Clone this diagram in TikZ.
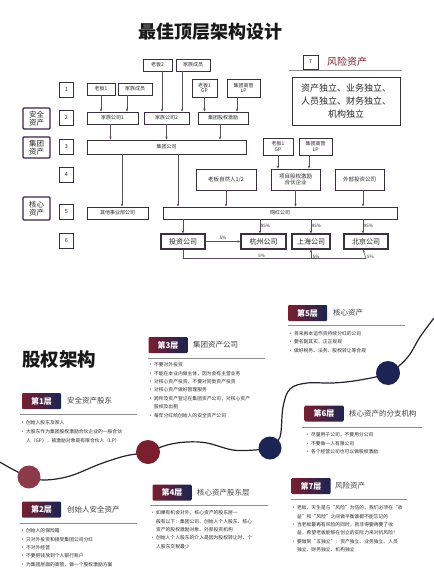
\documentclass[tikz,border=0pt]{standalone}
\usepackage{fontspec}
\setmainfont{Noto Sans CJK SC}
\usetikzlibrary{arrows.meta,calc}
\definecolor{maroon}{HTML}{7A1F2E}
\definecolor{lmaroon}{HTML}{8C3A4A}
\definecolor{navy}{HTML}{1B2452}
\definecolor{boxc}{HTML}{3A3040}
\definecolor{txt}{HTML}{2A2A2A}
\definecolor{linec}{HTML}{26202C}
\newcommand\mybox[7][]{\node[box,#1,minimum width={(#5-#3)*1pt},minimum height={(#6-#4)*1pt}] (#2) at ({(#3+#5)/2},{(#4+#6)/2}) {#7};}
\begin{document}
\begin{tikzpicture}[x=1pt,y=-1pt,
  box/.style={draw=boxc,line width=0.8pt,inner sep=0pt,align=center,text=txt,font=\fontsize{5}{5.6}\selectfont},
  big/.style={line width=1.1pt,font=\fontsize{7}{7}\selectfont,text=black!85},
  numbox/.style={draw=boxc,line width=0.8pt,inner sep=0pt,minimum width=14pt,minimum height=15pt,font=\fontsize{5.5}{6}\selectfont,text=txt},
  lab/.style={draw=navy!70!maroon,line width=1.3pt,inner sep=0pt,minimum width=27pt,align=center,font=\fontsize{7.5}{8}\selectfont,text=black!85,rounded corners=1pt},
  arr/.style={-{Stealth[length=3pt,width=2.4pt]},draw=boxc!85,line width=0.55pt},
  ln/.style={draw=boxc!85,line width=0.55pt},
  pct/.style={font=\fontsize{4.5}{5}\selectfont,text=txt,inner sep=0.5pt},
  badge/.style={left color=maroon,right color=navy,text=white,font=\bfseries\fontsize{8}{8}\selectfont,minimum width=39pt,minimum height=16pt,inner sep=0pt,rounded corners=1pt},
  hdr/.style={anchor=west,font=\fontsize{7.5}{8}\selectfont,text=black!75,inner sep=0pt},
  rule/.style={draw=black!45,line width=1pt},
  blt/.style={anchor=north west,align=left,font=\fontsize{4.8}{8.4}\selectfont,text=txt,inner sep=0pt},
  curve/.style={draw=linec,line width=1.2pt},
]
\fill[white] (0,0) rectangle (433,577);
\useasboundingbox (0,0) rectangle (433,577);

% title
\node[font=\bfseries\fontsize{18}{18}\selectfont,text=black!90] (title) at (210,32) {最佳顶层架构设计};

% row numbers
\node[numbox] (n1) at (66.5,90) {1};
\node[numbox] (n2) at (66.5,118) {2};
\node[numbox] (n3) at (66.5,147) {3};
\node[numbox] (n4) at (66.5,175) {4};
\node[numbox] (n5) at (66.5,212) {5};
\node[numbox] (n6) at (66.5,241) {6};

% left labels
\node[lab,minimum height=21pt] (la1) at (36.5,118.5) {安全\\资产};
\node[lab,minimum height=21pt] (la2) at (36.5,147.5) {集团\\资产};
\node[lab,minimum height=23pt] (la3) at (36.5,208.5) {核心\\资产};

% nodes
\mybox{b2}{143}{59}{172}{71}{老板2}
\mybox{fm2}{176}{59}{210}{71}{家族成员}
\mybox{b1}{87}{83}{115}{95}{老板1}
\mybox{fm1}{118}{83}{152}{95}{家族成员}
\mybox{gp1}{192}{79}{217}{97}{老板1\\GP}
\mybox{lp1}{227}{79}{260}{97}{集团高管\\LP}
\mybox{fc1}{87}{112}{138}{124}{家族公司1}
\mybox{fc2}{144}{112}{189}{124}{家族公司2}
\mybox{inc}{198}{112}{248}{124}{集团股权激励}
\mybox{grp}{87}{140}{246}{154}{集团公司}
\mybox{gp2}{263}{138}{293}{155}{老板1\\GP}
\mybox{lp2}{299}{138}{332}{155}{集团高管\\LP}
\mybox[font=\fontsize{5.5}{6.5}\selectfont]{nat}{196}{169}{256}{190}{老板自然人1/2}
\mybox[font=\fontsize{5.5}{6.5}\selectfont]{prj}{271}{169}{320}{190}{项目股权激励\\合伙企业}
\mybox[font=\fontsize{5.5}{6.5}\selectfont]{ext}{335}{169}{384}{190}{外部投资公司}
\mybox{oth}{87}{207}{148}{219}{其他事业部公司}
\mybox{wh}{163}{207}{397}{219}{网红公司}
\mybox[big]{inv}{161}{234}{205}{249}{投资公司}
\mybox[big]{hz}{241}{234}{286}{249}{杭州公司}
\mybox[big]{sh}{292}{234}{330}{249}{上海公司}
\mybox[big]{bj}{344}{234}{388}{249}{北京公司}

% connectors top
\draw[arr] (b1.south) -- (b1.south |- fc1.north);
\draw[arr] ([xshift=-8pt]fm1.south) -- ([xshift=-8pt]fm1.south |- fc1.north);
\draw[arr] ([xshift=4.5pt]b2.south) -- ([xshift=4.5pt]b2.south |- fc2.north);
\draw[arr] ([xshift=-11pt]fm2.south) -- ([xshift=-11pt]fm2.south |- fc2.north);
\draw[arr] (gp1.south) -- (gp1.south |- inc.north);
\draw[arr] ([xshift=-6.5pt]lp1.south) -- ([xshift=-6.5pt]lp1.south |- inc.north);
\draw[arr] ([xshift=-2pt]fc1.south) -- ([xshift=-2pt]fc1.south |- grp.north);
\draw[arr] (fc2.south) -- (fc2.south |- grp.north);
\draw[arr] ([xshift=-3pt]inc.south) -- ([xshift=-3pt]inc.south |- grp.north);
\draw[arr] ([xshift=4.5pt]oth.north |- grp.south) -- ([xshift=4.5pt]oth.north);
\draw[arr] ([xshift=11.5pt]grp.south) -- ([xshift=11.5pt]grp.south |- wh.north);
\draw[arr] (gp2.south) -- (gp2.south |- prj.north);
\draw[arr] ([xshift=-6.5pt]lp2.south) -- ([xshift=-6.5pt]lp2.south |- prj.north);
\draw[arr] (nat.south) -- (nat.south |- wh.north);
\draw[arr] (prj.south) -- (prj.south |- wh.north);
\draw[arr] ([xshift=3.5pt]ext.south) -- ([xshift=3.5pt]ext.south |- wh.north);
% row 6
\draw[arr] (inv.north |- wh.south) -- (inv.north);
\draw[arr] ([xshift=-3.5pt]hz.north |- wh.south) -- node[pct,right,pos=0.45] {95\%} ([xshift=-3.5pt]hz.north);
\draw[arr] (sh.north |- wh.south) -- node[pct,right,pos=0.45] {95\%} (sh.north);
\draw[arr] ([xshift=-3pt]bj.north |- wh.south) -- node[pct,right,pos=0.45] {95\%} ([xshift=-3pt]bj.north);
\draw[arr] (inv.east) -- node[pct,above=1pt] {5\%} (inv.east -| hz.west);
\coordinate (bl) at ($(inv.south)+(0,9)$);
\draw[ln] (inv.south) -- (bl) -- node[pct,above,pos=0.43] {5\%} (bl -| bj.south) coordinate (br);
\draw[arr] (br) -- node[pct,right,pos=0.2,xshift=1pt] {5\%} ([xshift=-3pt]bj.south |- bj.south);
\draw[arr] (bl -| sh.south) -- node[pct,right,pos=0.2,xshift=1pt] {5\%} (sh.south);

% right box
\node[numbox,minimum width=15pt,minimum height=14pt] (n7) at (310.5,62) {7};
\node[anchor=west,inner sep=0pt,font=\fontsize{10}{10}\selectfont,text=maroon] (rt) at (327,62) {风险资产};
\draw[rule] (289,71) -- (402,71);
\node[draw=boxc,line width=0.8pt,minimum width=108pt,minimum height=48pt,inner sep=0pt,align=center,font=\fontsize{9}{13}\selectfont,text=black!85] (risk) at (346,101) {资产独立、业务独立、\\人员独立、财务独立、\\机构独立};

% ---- lower part ----
\node[font=\bfseries\fontsize{18.5}{19}\selectfont,text=black!90,anchor=west,inner sep=0pt] (t2) at (22,360) {股权架构};

% curve
\draw[curve] plot[smooth,tension=0.6] coordinates {(-2,461) (14,470) (29,477) (45,480) (70,476) (100,464) (125,456) (148,452) (167,445) (187,442) (207,443) (233,450) (255,450) (270,448)};
\draw[curve] plot[smooth,tension=0.6] coordinates {(270,448) (280,437) (283,407) (290,389) (307,383) (333,383) (360,380) (388,373) (407,358) (420,337) (434,318)};
\fill[lmaroon] (29,477) circle (11.5);
\fill[maroon] (148,452) circle (12);
\fill[navy] (270,448) circle (11.5);
\fill[navy] (388,373) circle (12);

% layer 3
\node[badge] (L3) at (168,345) {第3层};
\node[hdr] (H3) at (193,345) {集团资产公司};
\draw[rule] (148,358) -- (265,358);
\node[blt] (B3) at (148,362.5) {• 不要对外投资\\• 不能在本业内做主体，因为会有主营业务\\• 对核心资产投资，不要对同类资产投资\\• 对核心资产做好管理服务\\• 跨所及资产登记在集团资产公司，对核心资产\\\phantom{• }股权及出租\\• 每年分红给创始人的安全资产公司};

% layer 5
\node[badge] (L5) at (307.5,313) {第5层};
\node[hdr] (H5) at (333,313) {核心资产};
\draw[rule] (288,325) -- (405,325);
\node[blt] (B5) at (288,331) {• 将来再本运作资持续分红的公司\\• 要名副其实、正正规规\\• 做好税务、法务、股权转让等合规};

% layer 1
\node[badge] (L1) at (41.5,401) {第1层};
\node[hdr] (H1) at (67,401) {安全资产股东};
\draw[rule] (20,414) -- (137,414);
\node[blt,font=\fontsize{4.8}{9}\selectfont] (B1) at (20,420.5) {• 创始人股东及家人\\• 大股东作为集团股权激励合伙企业的一般合伙\\\phantom{• }人（GP），被激励对象是有限合伙人（LP）};

% layer 6
\node[badge] (L6) at (324,413.5) {第6层};
\node[hdr] (H6) at (349,413.5) {核心资产的分支机构};
\draw[rule] (302,427) -- (422,427);
\node[blt] (B6) at (305,432.5) {• 尽量用子公司，不要用分公司\\• 不要做一人有限公司\\• 各个经营公司也可以做股权激励};

% layer 7
\node[badge] (L7) at (311,486) {第7层};
\node[hdr] (H7) at (335,486) {风险资产};
\draw[rule] (291,499) -- (407,499);
\node[blt] (B7) at (291,505.5) {• 老板，天生是与“风险”为伍的，我们必须在“收\\\phantom{• }益”和“风险”之间做平衡谁都不能忘记的\\• 当老板最再有风险的同时，就非得要再要了收\\\phantom{• }益，希望老板能够在创立的实际力来对抗风险！\\• 要做到“五独立”：资产独立、业务独立、人员\\\phantom{• }独立、财务独立、机构独立};

% layer 4
\node[badge] (L4) at (172,492.5) {第4层};
\node[hdr] (H4) at (197,492.5) {核心资产股东层};
\draw[rule] (150,505) -- (268,505);
\node[blt] (B4) at (150,510.5) {• 如果有机会对外，核心资产的股东层一\\\phantom{• }般有以下：集团公司、创始人个人股东、核心\\\phantom{• }资产的股权激励对象、外部投资机构\\• 创始人个人股东的介入是因为股权转让时，个\\\phantom{• }人股东交税最少};

% layer 2
\node[badge] (L2) at (41.5,509.5) {第2层};
\node[hdr] (H2) at (67,509.5) {创始人安全资产};
\draw[rule] (20,523) -- (137,523);
\node[blt] (B2) at (20,528.5) {• 创始人的保险箱\\• 只对外投资和接受集团公司分红\\• 不对外经营\\• 不要把钱放到个人银行账户\\• 为集团层面的高管，做一个股权激励方案};
\end{tikzpicture}
\end{document}
